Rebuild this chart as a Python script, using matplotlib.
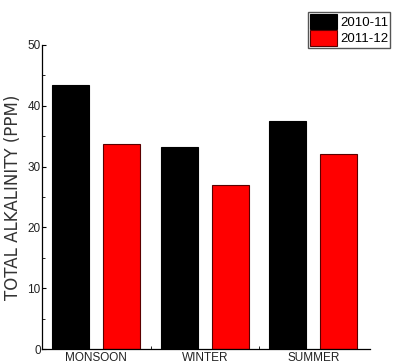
import numpy as np
import matplotlib
matplotlib.use('Agg')
import matplotlib.pyplot as plt
from matplotlib.ticker import MultipleLocator, FixedLocator

plt.rcParams['font.family'] = ['Liberation Sans Narrow', 'Liberation Sans', 'DejaVu Sans']

seasons = ['MONSOON', 'WINTER', 'SUMMER']
years = ['2010-11', '2011-12']
alk_2010 = [43.5, 33.3, 37.5]
alk_2011 = [33.7, 26.9, 32.1]
colors = ['#000000', '#ff0000']

fig = plt.figure(figsize=(3.93, 3.62), dpi=100)
ax = fig.add_axes([0.107, 0.0359, 0.834, 0.8398])

x = np.arange(len(seasons))
w = 0.34
ax.bar(x - 0.235, alk_2010, w, color=colors[0], edgecolor='black', linewidth=0.8, label=years[0])
ax.bar(x + 0.235, alk_2011, w, color=colors[1], edgecolor='#5a0000', linewidth=0.8, label=years[1])

ax.set_xlim(-0.5, 2.52)
ax.set_ylim(0, 50)
ax.set_xticks(x)
ax.set_xticklabels(seasons, fontsize=8)
ax.xaxis.set_minor_locator(FixedLocator([0.5, 1.5]))
ax.yaxis.set_major_locator(MultipleLocator(10))
ax.yaxis.set_minor_locator(MultipleLocator(5))
ax.tick_params(axis='both', which='major', direction='in', length=3, width=0.8,
               labelsize=8.5, pad=1, labelcolor='#222222')
ax.tick_params(axis='x', which='major', length=0, pad=2)
ax.tick_params(axis='both', which='minor', direction='in', length=2, width=0.6)
for s in ['top', 'right']:
    ax.spines[s].set_visible(False)
for s in ['left', 'bottom']:
    ax.spines[s].set_linewidth(0.9)

ax.set_ylabel('TOTAL ALKALINITY (PPM)', fontsize=12, family=['DejaVu Sans'],
              color='#333333', labelpad=4)

fig.legend(loc='upper left', bbox_to_anchor=(307.7 / 393, 1 - 11.7 / 362),
           fontsize=9.5, handlelength=2.1, handleheight=1.45, labelspacing=0.05,
           handletextpad=0.2, borderpad=0.15, borderaxespad=0, fancybox=False,
           edgecolor='#555555', framealpha=1)

fig.savefig('out.png', dpi=100)
